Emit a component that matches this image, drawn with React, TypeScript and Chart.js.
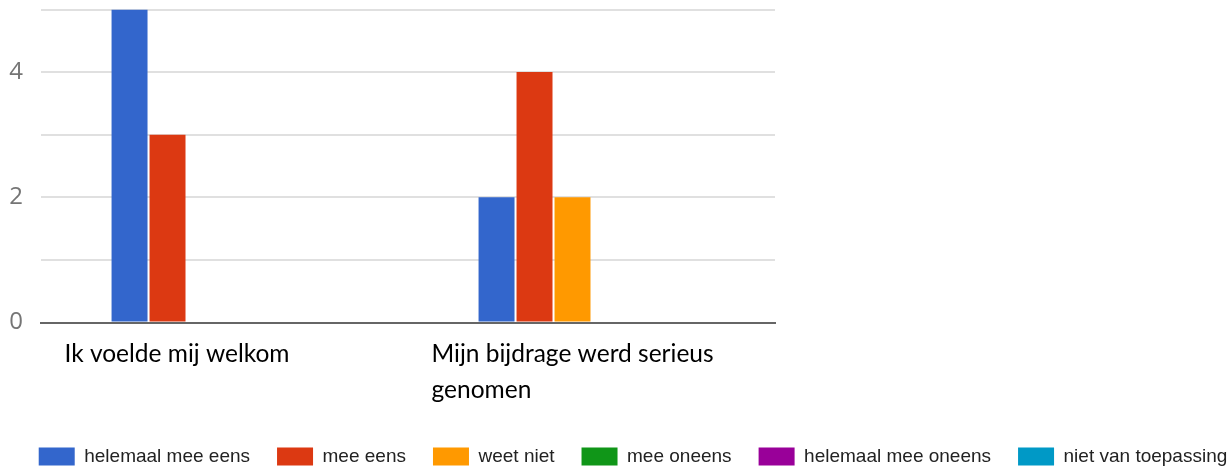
import React, { useEffect, useRef } from 'react';
import { Chart, registerables } from 'chart.js';

Chart.register(...registerables);

const categories: (string | string[])[] = [
  'Ik voelde mij welkom',
  ['Mijn bijdrage werd serieus', 'genomen'],
];
const seriesNames = [
  'helemaal mee eens',
  'mee eens',
  'weet niet',
  'mee oneens',
  'helemaal mee oneens',
  'niet van toepassing',
];
const helemaalMeeEens = [5, 2];
const meeEens = [3, 4];
const weetNiet = [0, 2];
const meeOneens = [0, 0];
const helemaalMeeOneens = [0, 0];
const nietVanToepassing = [0, 0];
const seriesColors = ['#3366cc', '#dc3912', '#ff9900', '#109618', '#990099', '#0099c6'];
const yTickLabels = [0, 2, 4];
const yMax = 5;

const CANVAS_W = 1266;
const CANVAS_H = 476;

export default function App() {
  const ref = useRef<HTMLCanvasElement | null>(null);

  useEffect(() => {
    if (!ref.current) return;
    const values = [helemaalMeeEens, meeEens, weetNiet, meeOneens, helemaalMeeOneens, nietVanToepassing];
    const chart = new Chart(ref.current, {
      type: 'bar',
      data: {
        labels: categories,
        datasets: seriesNames.map((name, i) => ({
          label: name,
          data: values[i],
          backgroundColor: seriesColors[i],
          borderWidth: 0,
          categoryPercentage: 0.621,
          barPercentage: 0.947,
        })),
      },
      options: {
        animation: false,
        responsive: true,
        maintainAspectRatio: false,
        layout: { padding: { left: 0, top: 9.5, right: 0, bottom: 0 } },
        plugins: {
          tooltip: { enabled: false },
          legend: {
            position: 'bottom',
            labels: {
              boxWidth: 36,
              boxHeight: 18,
              padding: 27,
              color: '#222222',
              font: { family: 'Liberation Sans', size: 19 },
            },
          },
        },
        scales: {
          x: {
            offset: true,
            grid: { display: false, drawTicks: false },
            border: { display: true, color: '#666666', width: 2 },
            ticks: {
              align: 'start',
              labelOffset: -160,
              padding: 13.5,
              autoSkip: false,
              maxRotation: 0,
              color: '#000000',
              font: { family: 'Lato', size: 24.5, lineHeight: 1.47 },
            },
            afterFit: (s: any) => {
              s.height = 97.5;
              s.paddingLeft = 0;
              s.paddingRight = 0;
            },
          },
          y: {
            min: 0,
            max: yMax,
            grid: { color: '#e0e0e0', lineWidth: 2, drawTicks: false },
            border: { display: false },
            ticks: {
              stepSize: 1,
              padding: 18,
              color: '#757575',
              font: { family: 'Open Sans', size: 24 },
              callback: (v: any) => (yTickLabels.includes(Number(v)) ? String(v) : ''),
            },
            afterFit: (s: any) => {
              s.width = 41;
              s.paddingTop = 0;
              s.paddingBottom = 0;
            },
          },
          y2: {
            position: 'right',
            display: true,
            grid: { display: false },
            border: { display: false },
            ticks: { display: false },
            afterFit: (s: any) => {
              s.width = CANVAS_W - 775;
              s.paddingTop = 0;
              s.paddingBottom = 0;
            },
          },
        },
      },
    });
    return () => chart.destroy();
  }, []);

  return (
    <div style={{ position: 'absolute', left: 0, top: 0, width: 1232, height: 470, overflow: 'hidden', background: '#fff' }}>
      <div style={{ position: 'relative', width: CANVAS_W, height: CANVAS_H }}>
        <canvas ref={ref} />
      </div>
    </div>
  );
}
